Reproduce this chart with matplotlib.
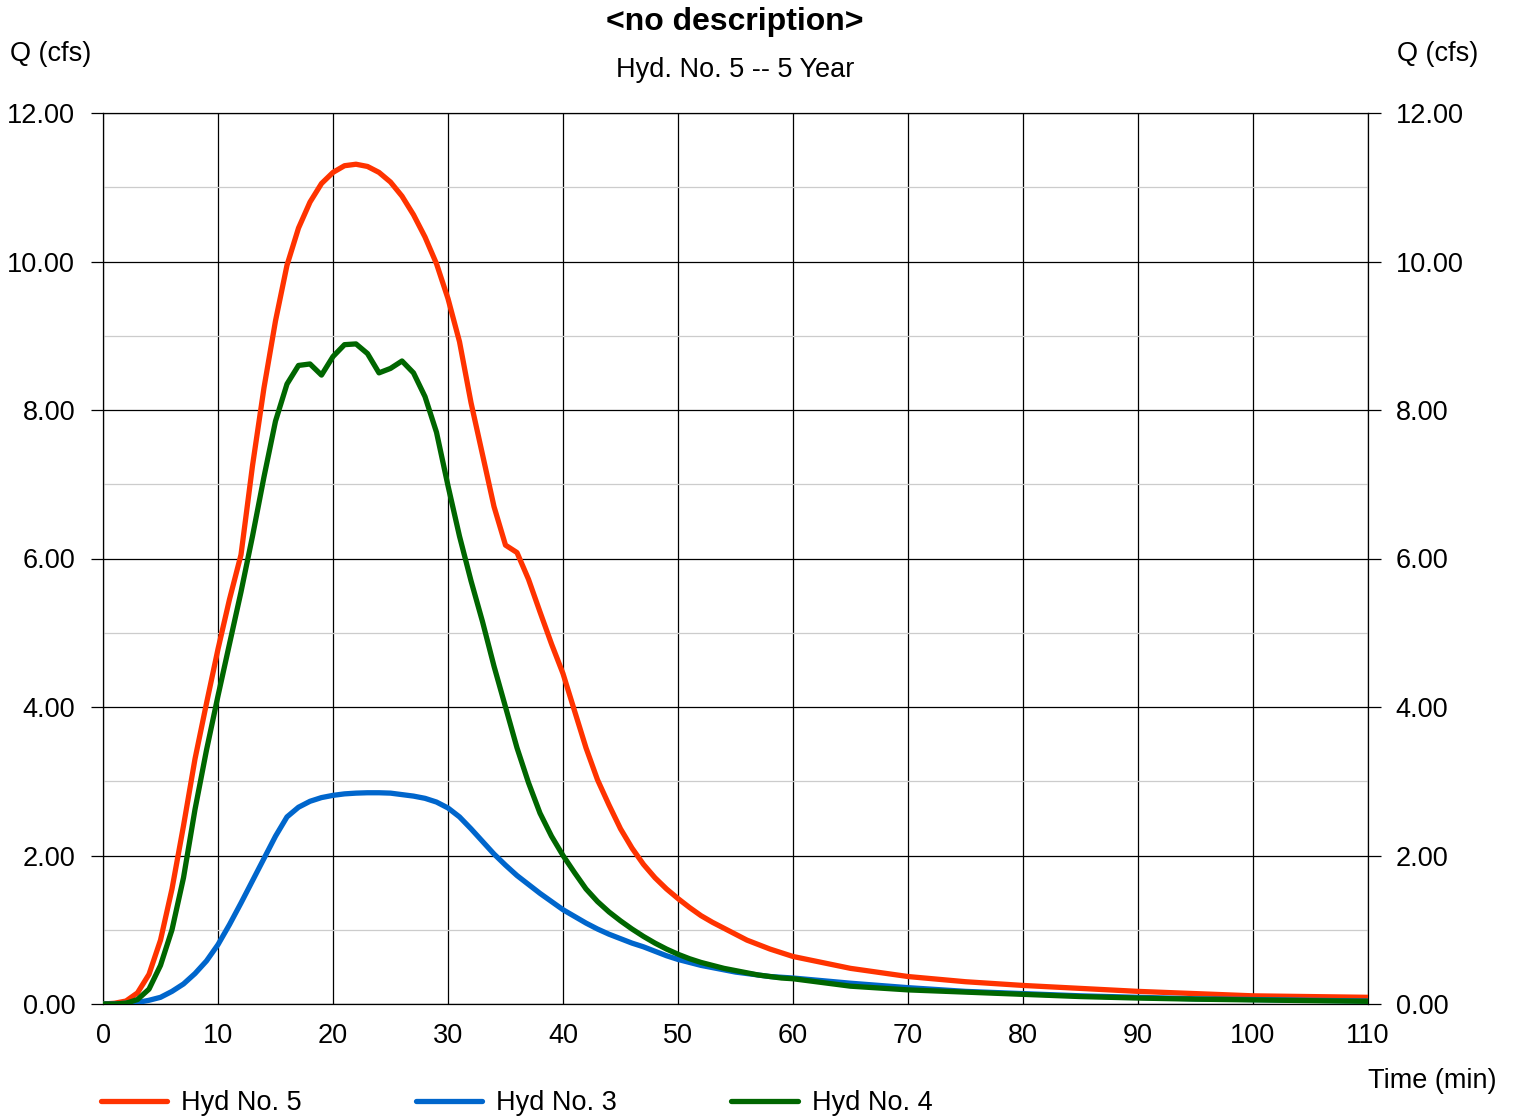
import matplotlib
matplotlib.use("Agg")
import matplotlib.pyplot as plt
from matplotlib.ticker import MultipleLocator, FormatStrFormatter

plt.rcParams['font.family'] = ['Liberation Sans', 'DejaVu Sans']

# Time axis (min): 1-minute steps to 60, then 5-minute steps on the recession tail
time_min = list(range(0, 61)) + [65, 70, 75, 80, 85, 90, 95, 100, 105, 110]

hyd5 = [0.00, 0.01, 0.04, 0.15, 0.40, 0.86, 1.55, 2.40, 3.30, 4.05,
        4.78, 5.45, 6.05, 7.25, 8.30, 9.20, 9.95, 10.45, 10.80, 11.05,
        11.20, 11.29, 11.31, 11.28, 11.20, 11.07, 10.88, 10.63, 10.33, 9.97,
        9.50, 8.92, 8.10, 7.40, 6.70, 6.18, 6.08, 5.72, 5.28, 4.85,
        4.45, 3.95, 3.45, 3.02, 2.68, 2.36, 2.10, 1.88, 1.70, 1.55,
        1.42, 1.30, 1.19, 1.10, 1.02, 0.94, 0.86, 0.80, 0.74, 0.69,
        0.64, 0.48, 0.37, 0.30, 0.25, 0.21, 0.17, 0.14, 0.11, 0.10, 0.09]

hyd3 = [0.00, 0.00, 0.01, 0.02, 0.05, 0.09, 0.17, 0.27, 0.41, 0.58,
        0.80, 1.07, 1.36, 1.66, 1.96, 2.26, 2.52, 2.65, 2.73, 2.78,
        2.81, 2.83, 2.84, 2.845, 2.845, 2.84, 2.82, 2.80, 2.77, 2.72,
        2.64, 2.52, 2.36, 2.19, 2.02, 1.87, 1.73, 1.61, 1.49, 1.38,
        1.27, 1.18, 1.09, 1.01, 0.94, 0.88, 0.82, 0.77, 0.71, 0.65,
        0.60, 0.56, 0.52, 0.49, 0.46, 0.43, 0.41, 0.39, 0.37, 0.36,
        0.35, 0.28, 0.22, 0.17, 0.14, 0.11, 0.09, 0.07, 0.06, 0.05, 0.04]

hyd4 = [0.00, 0.00, 0.01, 0.06, 0.20, 0.52, 1.00, 1.70, 2.62, 3.42,
        4.15, 4.85, 5.55, 6.30, 7.10, 7.85, 8.35, 8.60, 8.62, 8.47,
        8.72, 8.88, 8.89, 8.76, 8.50, 8.56, 8.66, 8.50, 8.18, 7.70,
        6.98, 6.30, 5.70, 5.15, 4.55, 4.00, 3.45, 2.98, 2.57, 2.26,
        2.00, 1.77, 1.55, 1.38, 1.24, 1.12, 1.01, 0.91, 0.82, 0.74,
        0.67, 0.61, 0.56, 0.52, 0.48, 0.45, 0.42, 0.39, 0.37, 0.35,
        0.34, 0.24, 0.19, 0.16, 0.13, 0.10, 0.08, 0.065, 0.055, 0.045, 0.036]

series_labels = ["Hyd No. 5", "Hyd No. 3", "Hyd No. 4"]
series_colors = ["#FF3300", "#0066CC", "#006600"]

x_ticks = list(range(0, 111, 10))
y_ticks = [0, 2, 4, 6, 8, 10, 12]

FS = 19.5
W, H = 1514, 1116
fig = plt.figure(figsize=(W / 100, H / 100), dpi=100)
ax = fig.add_axes([103 / W, 1 - 1004 / H, (1368 - 103) / W, (1004 - 113) / H])

lines = []
for y, lab, col in zip([hyd5, hyd3, hyd4], series_labels, series_colors):
    ln, = ax.plot(time_min, y, color=col, lw=3.8, label=lab,
                  solid_joinstyle='round', solid_capstyle='round', zorder=3)
    lines.append(ln)

ax.set_xlim(0, 110)
ax.set_ylim(0, 12)
ax.set_xticks(x_ticks)
ax.set_yticks(y_ticks)
ax.yaxis.set_minor_locator(MultipleLocator(1))
ax.yaxis.set_major_formatter(FormatStrFormatter('%.2f'))

ax.grid(which='major', axis='both', color='black', lw=0.9, zorder=1)
ax.grid(which='minor', axis='y', color='#cccccc', lw=0.9, zorder=0.5)
for s in ax.spines.values():
    s.set_color('black')
    s.set_linewidth(0.9)

ax.tick_params(axis='y', which='major', direction='out', length=9, width=0.9,
               left=True, right=True, labelleft=True, labelright=True,
               labelsize=FS, pad=11)
ax.tick_params(axis='y', which='minor', length=0)
ax.tick_params(axis='x', which='major', length=0, labelsize=FS, pad=14)

# Titles and axis captions
fig.text(0.4855, 1 - 22 / H, "<no description>", ha='center', va='center',
         fontsize=23, fontweight='bold')
fig.text(0.4855, 1 - 70 / H, "Hyd. No. 5 -- 5 Year", ha='center', va='center',
         fontsize=FS)
fig.text(10 / W, 1 - 54 / H, "Q (cfs)", ha='left', va='center', fontsize=FS)
fig.text(1478 / W, 1 - 54 / H, "Q (cfs)", ha='right', va='center', fontsize=FS)
fig.text(1497 / W, 1 - 1081 / H, "Time (min)", ha='right', va='center', fontsize=FS)

fig.legend(handles=lines, loc='center left', bbox_to_anchor=(101 / W, 1 - 1103 / H),
           ncol=3, frameon=False, fontsize=FS, handlelength=2.44,
           handletextpad=0.52, columnspacing=4.22, borderaxespad=0, borderpad=0)

fig.savefig("out.png", dpi=100)
